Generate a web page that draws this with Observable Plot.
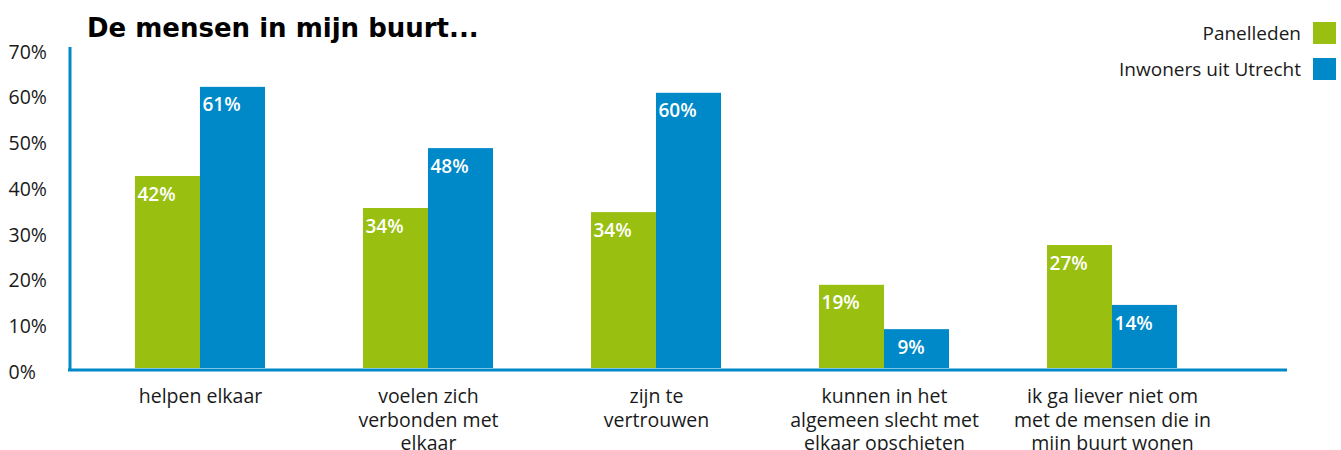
<!DOCTYPE html>
<html>
<head>
<meta charset="utf-8">
<script src="https://cdn.jsdelivr.net/npm/d3@7"></script>
<script src="https://cdn.jsdelivr.net/npm/@observablehq/plot@0.6"></script>
<style>
  body { margin: 0; background: #fff; }
  #wrap { position: relative; width: 1341px; height: 450px; overflow: hidden; }
  #title { position: absolute; left: 87px; top: 13px; font: bold 26px "DejaVu Sans", sans-serif; line-height: 30px; color: #000; white-space: nowrap; }
  .leg { position: absolute; right: 5px; display: flex; align-items: center; gap: 12px; font: 19px "Open Sans", sans-serif; color: #1a1a1a; line-height: 22px; white-space: nowrap; }
  .leg .sw { width: 23px; height: 22px; }
  #chart { position: absolute; left: 0; top: 0; }
</style>
</head>
<body>
<div id="wrap">
  <div id="chart"></div>
  <div id="title">De mensen in mijn buurt...</div>
  <div id="legend"></div>
</div>
<script>
// ---- data ----
const categories = [
  "helpen elkaar",
  "voelen zich\nverbonden met\nelkaar",
  "zijn te\nvertrouwen",
  "kunnen in het\nalgemeen slecht met\nelkaar opschieten",
  "ik ga liever niet om\nmet de mensen die in\nmijn buurt wonen"
];
const seriesNames = ["Panelleden", "Inwoners uit Utrecht"];
const panelleden = [42.0, 35.0, 34.1, 18.2, 26.9];
const inwoners = [61.5, 48.1, 60.2, 8.5, 13.8];
const panelLabels = ["42%", "34%", "34%", "19%", "27%"];
const inwonersLabels = ["61%", "48%", "60%", "9%", "14%"];
const yTicks = [0, 10, 20, 30, 40, 50, 60, 70];
const yTickLabels = ["0%", "10%", "20%", "30%", "40%", "50%", "60%", "70%"];

const green = "#99c010";
const blue = "#0089c9";
const textColor = "#1a1a1a";

const rows = categories.map((c, i) => ({
  cat: c,
  panel: panelleden[i],
  inw: inwoners[i],
  panelLabel: panelLabels[i].padStart(3, "\u2007"),
  inwLabel: inwonersLabels[i].padStart(3, "\u2007")
}));
const ticks = yTicks.map((t, i) => ({v: t, label: yTickLabels[i]}));

const half = 65;

const chart = Plot.plot({
  width: 1341,
  height: 450,
  marginLeft: 68,
  marginRight: 54,
  marginTop: 48,
  marginBottom: 82,
  style: {fontFamily: "'Open Sans', sans-serif", background: "transparent", overflow: "visible"},
  x: {type: "band", domain: categories, paddingInner: 0.4298, paddingOuter: 0.388, align: 0.3785, round: false, axis: null},
  y: {domain: [0, 70], axis: null},
  marks: [
    Plot.barY(rows, {x: "cat", y: "panel", fill: green, insetRight: half}),
    Plot.barY(rows, {x: "cat", y: "inw", fill: blue, insetLeft: half}),
    Plot.text(rows, {x: "cat", y: "panel", text: "panelLabel", textAnchor: "start", dx: -half + 2, dy: 18, fill: "white", fontWeight: 600, fontSize: 19}),
    Plot.text(rows, {x: "cat", y: "inw", text: "inwLabel", textAnchor: "start", dx: 2, dy: 18, fill: "white", fontWeight: 600, fontSize: 19}),
    Plot.ruleY([0], {stroke: blue, strokeWidth: 3, dy: 1.5}),
    Plot.frame({anchor: "left", stroke: blue, strokeWidth: 3, dx: 1.5}),
    Plot.text(ticks, {y: "v", text: "label", frameAnchor: "left", textAnchor: "start", dx: -60, dy: 4, fontSize: 19.5, fill: textColor}),
    Plot.text(categories, {x: d => d, text: d => d, frameAnchor: "bottom", lineAnchor: "top", dy: 17, lineHeight: 1.23, fontSize: 19.5, fill: textColor})
  ]
});
document.getElementById("chart").appendChild(chart);

// legend
const legend = document.getElementById("legend");
const legendColors = [green, blue];
const legendTops = [22, 58];
seriesNames.forEach((name, i) => {
  const item = document.createElement("div");
  item.className = "leg";
  item.style.top = legendTops[i] + "px";
  const label = document.createElement("span");
  label.textContent = name;
  const sw = document.createElement("span");
  sw.className = "sw";
  sw.style.background = legendColors[i];
  item.appendChild(label);
  item.appendChild(sw);
  legend.appendChild(item);
});
</script>
</body>
</html>
